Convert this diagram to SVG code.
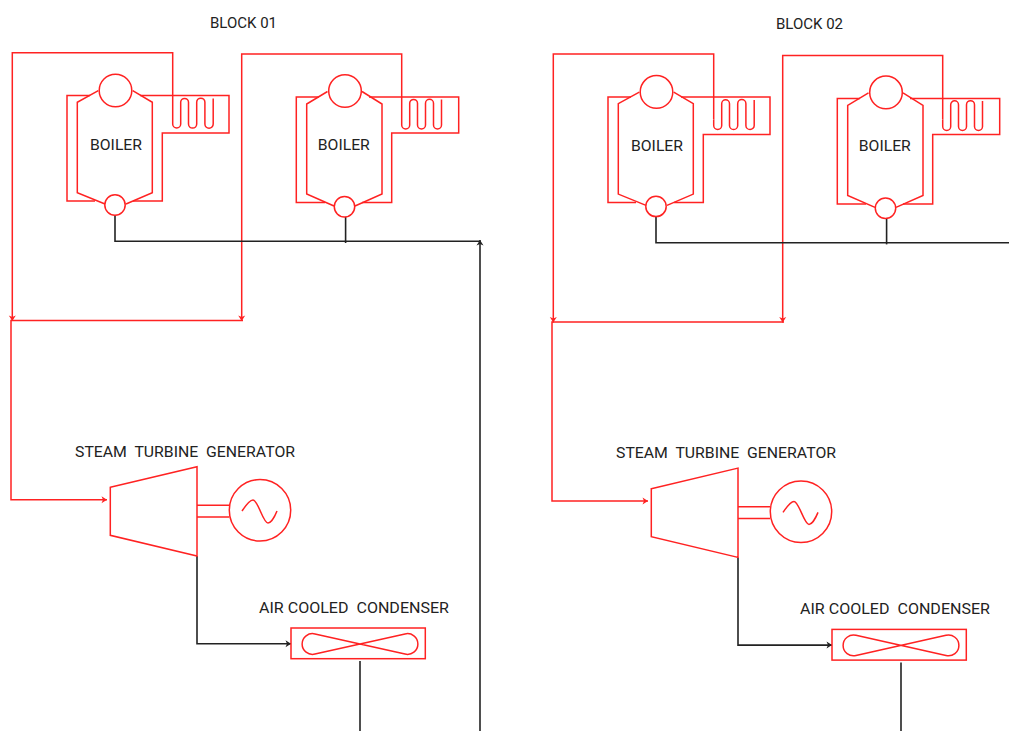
<svg xmlns="http://www.w3.org/2000/svg" width="1009" height="731" viewBox="0 0 1009 731">
<style>
.r{fill:none;stroke:#ff2222;stroke-width:1.5}
.k{fill:none;stroke:#222;stroke-width:1.6}
.w{fill:#fff;stroke:#ff2222;stroke-width:1.5}
text{font-family:"Roboto","Liberation Sans",sans-serif;font-size:14px;fill:#222;white-space:pre}
</style>
<defs>
<marker id="ar" markerUnits="userSpaceOnUse" markerWidth="10" markerHeight="10" refX="7" refY="5" orient="auto"><path d="M1.5 1.5L7 5L1.5 8.5L3 5Z" fill="#ff2222"/></marker>
<marker id="ak" markerUnits="userSpaceOnUse" markerWidth="10" markerHeight="10" refX="7" refY="5" orient="auto"><path d="M1.5 1.5L7 5L1.5 8.5L3 5Z" fill="#222"/></marker>
<g id="boilerA">
<path class="r" d="M98.3 90.7L77.3 102.3V192.7L105 204M132.7 90.7L152.3 102.3V192.7L126 204"/>
<path class="r" d="M90 95.5H67V201H95M140 95.5H229V133H162.3V201H133"/>
<path class="r" d="M172.7 118V124a4 4 0 0 0 8 0V102.3a3.9 3.9 0 0 1 7.8 0V124a4.1 4.1 0 0 0 8.2 0V102.3a4.1 4.1 0 0 1 8.2 0V124a4.1 4.1 0 0 0 8.3 0V98.5"/>
<circle class="w" cx="115.5" cy="90.5" r="16.3"/>
<circle class="w" cx="115" cy="205" r="10.2"/>
<text x="116" y="149.5" text-anchor="middle" textLength="52" lengthAdjust="spacingAndGlyphs">BOILER</text>
</g>
<g id="boilerB">
<path class="r" d="M327.5 91.5L306.7 104V194L334 206M362 91.5L382 104V194L355 206"/>
<path class="r" d="M319 97H296.3V202.5H325M369 97H458.7V133H391.7V202.5H362"/>
<path class="r" d="M401.7 118V125a4 4 0 0 0 8 0V103.3a3.9 3.9 0 0 1 7.8 0V125a4 4 0 0 0 8 0V103.3a4 4 0 0 1 8 0V125a4 4 0 0 0 8 0V99.5"/>
<circle class="w" cx="345" cy="91" r="16.3"/>
<circle class="w" cx="344.5" cy="206.8" r="10.2"/>
<text x="343.8" y="149.5" text-anchor="middle" textLength="52" lengthAdjust="spacingAndGlyphs">BOILER</text>
</g>
<g id="turbine">
<path class="r" d="M110.3 487.3L197 466.7V556L110.3 535.3Z"/>
<path class="r" d="M197 505.3H229M197 517H229"/>
<circle class="w" cx="260" cy="510.3" r="30.7"/>
<path class="r" d="M242 511C246 505 250 500 253 500C258 500 263 523 268 523C271 523 275 516 277 511"/>
<text x="75" y="456.5" textLength="220" lengthAdjust="spacingAndGlyphs">STEAM  TURBINE  GENERATOR</text>
</g>
<g id="condenser">
<rect class="r" x="291" y="628" width="134.3" height="30.7"/>
<path class="r" d="M315 633.9L405 654.1A10.4 10.4 0 1 0 405 633.9L315 654.1A10.4 10.4 0 1 1 315 633.9Z"/>
<text x="259" y="612.5" textLength="190" lengthAdjust="spacingAndGlyphs">AIR COOLED  CONDENSER</text>
</g>
</defs>
<g id="connectors">
<g id="conn-block1">
<path class="r" d="M172.7 118V52.7H12.3V321" marker-end="url(#ar)"/>
<path class="r" d="M401.7 118V54H241.7V321" marker-end="url(#ar)"/>
<path class="r" d="M243 320.5H11V499.7H107" marker-end="url(#ar)"/>
<path class="k" d="M197 556V643.7H291" marker-end="url(#ak)"/>
<path class="k" d="M115 215V241.3H480"/>
<path class="k" d="M345.6 217V243"/>
<path class="k" d="M480 731V240" marker-end="url(#ak)"/>
<path class="k" d="M360 661V731"/>
</g>
<g id="conn-block2" transform="translate(541 1.4)">
<path class="r" d="M172.7 118V52.7H12.3V321" marker-end="url(#ar)"/>
<path class="r" d="M401.7 118V54H241.7V321" marker-end="url(#ar)"/>
<path class="r" d="M243 320.5H11V499.7H107" marker-end="url(#ar)"/>
<path class="k" d="M197 556V643.7H291" marker-end="url(#ak)"/>
<path class="k" d="M115 215V241.3H468"/>
<path class="k" d="M345.6 217V243"/>
<path class="k" d="M360 661V731"/>
</g>
</g>
<g id="block-01">
<use id="boiler-1" href="#boilerA"/>
<use id="boiler-2" href="#boilerB"/>
<use id="turbine-1" href="#turbine"/>
<use id="condenser-1" href="#condenser"/>
</g>
<g id="block-02" transform="translate(541 1.4)">
<use id="boiler-3" href="#boilerA"/>
<use id="boiler-4" href="#boilerB"/>
<use id="turbine-2" href="#turbine"/>
<use id="condenser-2" href="#condenser"/>
</g>
<g id="titles">
<text x="210" y="28" textLength="67" lengthAdjust="spacingAndGlyphs">BLOCK 01</text>
<text x="776" y="29" textLength="67" lengthAdjust="spacingAndGlyphs">BLOCK 02</text>
</g>
</svg>
